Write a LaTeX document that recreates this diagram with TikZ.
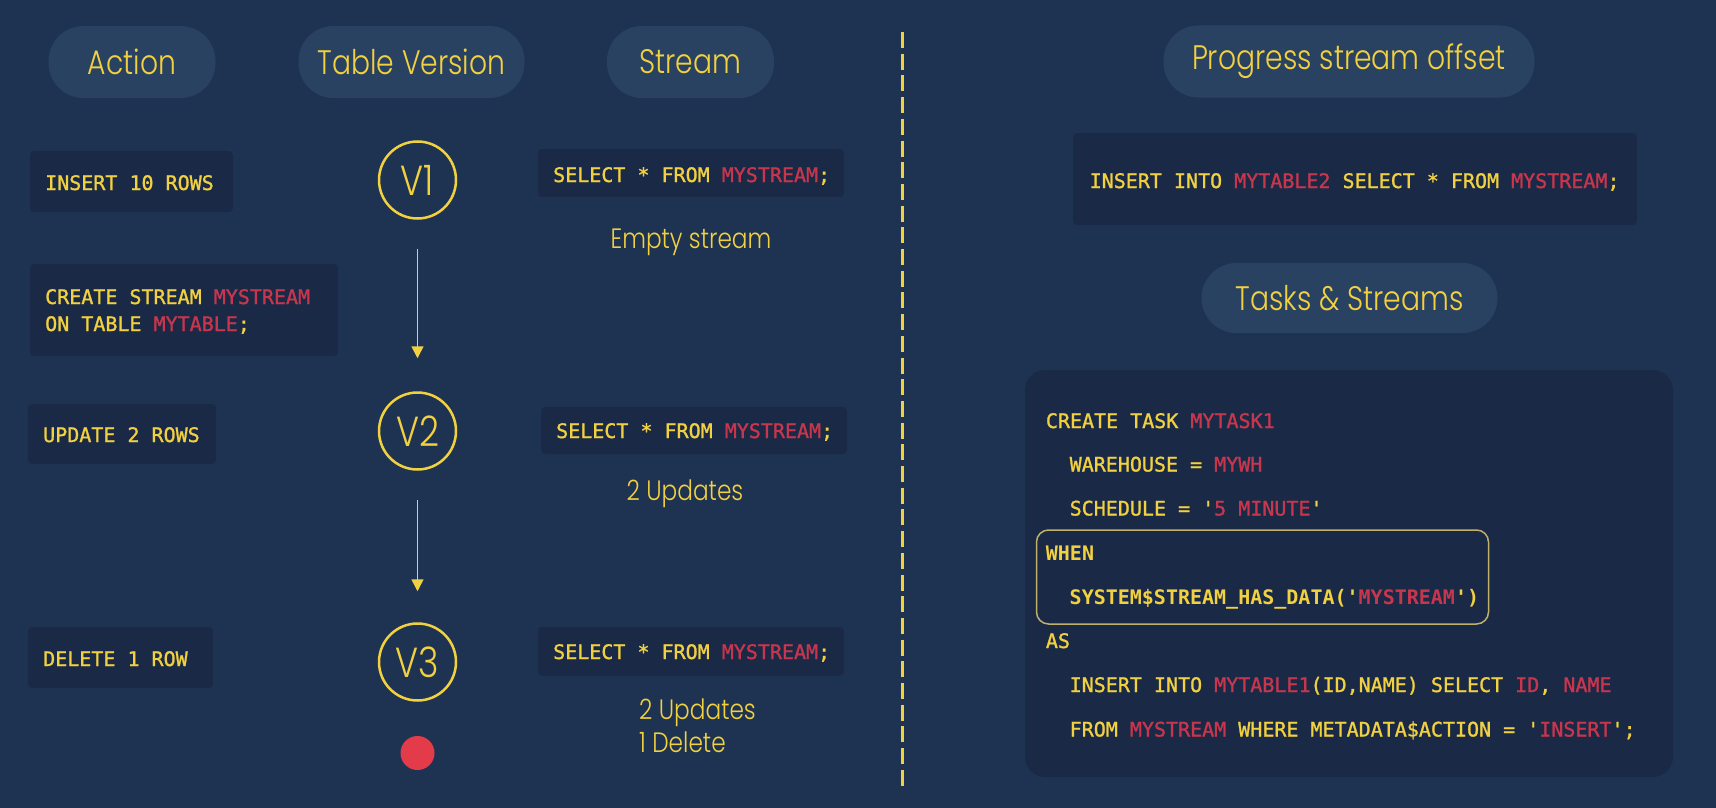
\documentclass[tikz,border=0pt]{standalone}
\usepackage{fontspec}
\usetikzlibrary{arrows.meta}
\newfontfamily\monof[FakeBold=1.2]{DejaVu Sans Mono}
\newfontfamily\monobf{DejaVu Sans Mono Bold}
\IfFontExistsTF{Poppins Light}{\newfontfamily\thinf[FakeStretch=0.83]{Poppins Light}}{\newfontfamily\thinf[FakeStretch=0.83]{Poppins}}
\definecolor{bgc}{HTML}{1E3352}
\definecolor{pillc}{HTML}{2A4262}
\definecolor{codec}{HTML}{1A2A46}
\definecolor{yel}{HTML}{F2D140}
\definecolor{redc}{HTML}{C8364E}
\definecolor{dotc}{HTML}{E43B4A}
\definecolor{hlc}{HTML}{BFB16A}
\newcommand\redtxt[1]{\textcolor{redc}{#1}}
\tikzset{
  pill/.style={fill=pillc, rounded corners=35pt, inner sep=0pt, text=yel, font=\thinf\fontsize{34}{40}\selectfont},
  codebox/.style={fill=codec, rounded corners=4pt, inner sep=0pt},
  code/.style={text=yel, font=\monof\fontsize{20}{24}\selectfont, inner sep=0pt, anchor=base west},
  boldcode/.style={code, font=\monobf\fontsize{20}{24}\selectfont},
  ver/.style={circle, draw=yel, line width=2.5pt, minimum size=77pt, inner sep=0pt, text=yel, font=\thinf\fontsize{42}{48}\selectfont},
  note/.style={text=yel, font=\thinf\fontsize{28}{33}\selectfont, inner sep=0pt},
  arr/.style={draw=yel, line width=1.5pt, -{Triangle[width=12pt,length=12pt]}},
  dashline/.style={draw=yel, line width=3pt, dash pattern=on 16pt off 5.7pt},
}
\begin{document}
\begin{tikzpicture}[x=1pt,y=-1pt]
\fill[bgc] (0,0) rectangle (1716,808);
\useasboundingbox (0,0) rectangle (1716,808);

% headers
\node[pill, minimum width=167pt, minimum height=72pt] (hAction) at (132,62) {Action};
\node[pill, minimum width=226pt, minimum height=72pt] (hTable) at (411.5,62) {Table Version};
\node[pill, minimum width=167pt, minimum height=72pt] (hStream) at (690.5,62) {Stream};
\node[pill, minimum width=371pt, minimum height=72pt] (hProg) at (1349,61.5) {Progress stream offset};
\node[pill, minimum width=296pt, minimum height=70pt] (hTasks) at (1349.5,298) {Tasks \& Streams};

% divider
\coordinate (dtop) at (902,32);
\coordinate (dbot) at (902,790);
\draw[dashline] (dtop) -- (dbot);

% actions
\node[codebox, minimum width=203pt, minimum height=61pt] (a1) at (131.5,181.5) {};
\node[code] (a1t) at (45,190) {INSERT 10 ROWS};
\node[codebox, minimum width=308pt, minimum height=92pt] (a2) at (184,310) {};
\node[code] (a2t) at (45,304) {CREATE STREAM \redtxt{MYSTREAM}};
\node[code] (a2u) at (45,331) {ON TABLE \redtxt{MYTABLE};};
\node[codebox, minimum width=188pt, minimum height=60pt] (a3) at (122,434) {};
\node[code] (a3t) at (43,442) {UPDATE 2 ROWS};
\node[codebox, minimum width=185pt, minimum height=61pt] (a4) at (120.5,657.5) {};
\node[code] (a4t) at (43,666) {DELETE 1 ROW};

% versions
\node[ver] (v1) at (417.5,180) {V1};
\node[ver] (v2) at (417.5,431) {V2};
\node[ver] (v3) at (417.5,662) {V3};
\draw[arr, shorten <=29pt, shorten >=33pt] (v1) -- (v2);
\draw[arr, shorten <=29pt, shorten >=31pt] (v2) -- (v3);
\node[circle, fill=dotc, minimum size=34pt, inner sep=0pt] (dot) at (417.5,753) {};

% stream
\node[codebox, minimum width=306pt, minimum height=48pt] (s1) at (691,173) {};
\node[code] (s1t) at (553,182) {SELECT * FROM \redtxt{MYSTREAM};};
\node[note, anchor=base] (n1) at (691,248) {Empty stream};
\node[codebox, minimum width=306pt, minimum height=47pt] (s2) at (694,430.5) {};
\node[code] (s2t) at (556,438) {SELECT * FROM \redtxt{MYSTREAM};};
\node[note, anchor=base] (n2) at (685,500) {2 Updates};
\node[codebox, minimum width=306pt, minimum height=49pt] (s3) at (691,651.5) {};
\node[code] (s3t) at (553,659) {SELECT * FROM \redtxt{MYSTREAM};};
\node[note, anchor=base west] (n3) at (639,719) {2 Updates};
\node[note, anchor=base west] (n4) at (639,752) {1 Delete};

% right side
\node[codebox, minimum width=564pt, minimum height=92pt] (p1) at (1355,179) {};
\node[code] (p1t) at (1089.5,188) {INSERT INTO \redtxt{MYTABLE2} SELECT * FROM \redtxt{MYSTREAM};};

\node[fill=codec, rounded corners=20pt, inner sep=0pt, minimum width=648pt, minimum height=407pt] (task) at (1349,573.5) {};
\node[draw=hlc, line width=1.5pt, rounded corners=12pt, inner sep=0pt, minimum width=452pt, minimum height=94pt] (hl) at (1262.5,577) {};
\node[code] (c1) at (1045.7,428) {CREATE TASK \redtxt{MYTASK1}};
\node[code] (c2) at (1069.5,471.5) {WAREHOUSE = \redtxt{MYWH}};
\node[code] (c3) at (1069.5,515.5) {SCHEDULE = '\redtxt{5 MINUTE}'};
\node[boldcode] (c4) at (1045.7,560) {WHEN};
\node[boldcode] (c5) at (1069.5,604.3) {SYSTEM\$STREAM\_HAS\_DATA('\redtxt{MYSTREAM}')};
\node[code] (c6) at (1045.7,648) {AS};
\node[code] (c7) at (1069.5,692) {INSERT INTO \redtxt{MYTABLE1}(ID,NAME) SELECT \redtxt{ID}, \redtxt{NAME}};
\node[code] (c8) at (1069.5,736.5) {FROM \redtxt{MYSTREAM} WHERE METADATA\$ACTION = '\redtxt{INSERT}';};
\end{tikzpicture}
\end{document}
